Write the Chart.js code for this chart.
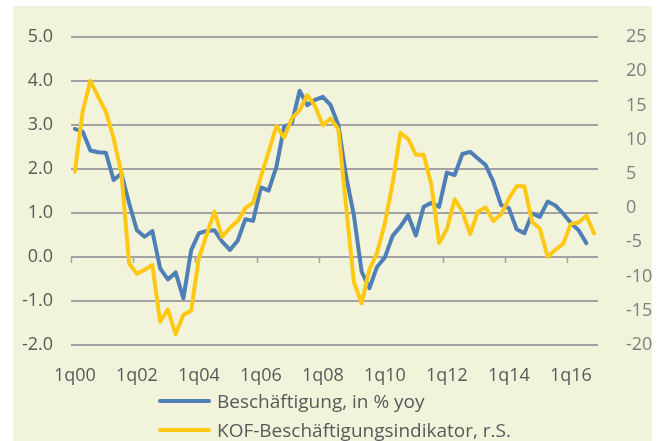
<!DOCTYPE html>
<html>
<head>
<meta charset="utf-8">
<script src="https://cdn.jsdelivr.net/npm/chart.js@4.4.0/dist/chart.umd.min.js"></script>
<style>
  body { margin: 0; background: #fff; }
  #wrap { position: relative; width: 663px; height: 441px; overflow: hidden; }
  #bg { position: absolute; left: 13px; top: 6px; width: 639px; height: 435px; background: #f1f4da; }
  #chart { position: absolute; left: 0; top: 0; }
  #legend { position: absolute; left: 158px; top: 386px; font-family: 'Open Sans', sans-serif; font-size: 19px; color: #595959; }
  .leg-row { display: flex; align-items: center; height: 29px; }
  .leg-line { width: 53px; height: 4px; border-radius: 2px; margin-right: 6px; }
</style>
</head>
<body>
<div id="wrap">
  <div id="bg"></div>
  <canvas id="chart" width="663" height="441"></canvas>
  <div id="legend"></div>
</div>
<script>
// quarterly categories 1q00 .. 4q16
const quarters = [
    '1q00', '2q00', '3q00', '4q00', '1q01', '2q01', '3q01', '4q01',
    '1q02', '2q02', '3q02', '4q02', '1q03', '2q03', '3q03', '4q03',
    '1q04', '2q04', '3q04', '4q04', '1q05', '2q05', '3q05', '4q05',
    '1q06', '2q06', '3q06', '4q06', '1q07', '2q07', '3q07', '4q07',
    '1q08', '2q08', '3q08', '4q08', '1q09', '2q09', '3q09', '4q09',
    '1q10', '2q10', '3q10', '4q10', '1q11', '2q11', '3q11', '4q11',
    '1q12', '2q12', '3q12', '4q12', '1q13', '2q13', '3q13', '4q13',
    '1q14', '2q14', '3q14', '4q14', '1q15', '2q15', '3q15', '4q15',
    '1q16', '2q16', '3q16', '4q16'
];

// Beschäftigung, in % yoy (left axis)
const employment = [
    2.91, 2.85, 2.42, 2.38, 2.37, 1.75, 1.90, 1.22, 0.61, 0.46, 0.59, -0.26, -0.51, -0.35, -0.94, 0.15,
    0.54, 0.59, 0.61, 0.35, 0.16, 0.37, 0.86, 0.82, 1.58, 1.51, 2.05, 2.96, 3.04, 3.78, 3.45, 3.57,
    3.64, 3.45, 3.00, 1.83, 0.95, -0.33, -0.71, -0.22, -0.01, 0.48, 0.69, 0.95, 0.49, 1.14, 1.23, 1.14,
    1.92, 1.86, 2.34, 2.39, 2.24, 2.09, 1.71, 1.18, 1.11, 0.63, 0.54, 0.99, 0.91, 1.26, 1.17, 0.99,
    0.77, 0.61, 0.31, null
];

// KOF-Beschäftigungsindikator (right axis)
const kofIndicator = [
    5.3, 14.1, 18.6, 16.3, 14.1, 10.2, 5.1, -8.1, -9.6, -9.0, -8.3, -16.6, -14.8, -18.4, -15.6, -15.0,
    -7.3, -3.9, -0.5, -4.2, -2.9, -1.9, 0.0, 0.8, 4.6, 8.2, 12.0, 10.3, 13.1, 14.3, 16.5, 14.9,
    12.1, 13.1, 11.5, 0.2, -10.8, -13.9, -9.0, -6.5, -2.2, 3.6, 11.0, 10.1, 7.8, 7.8, 3.4, -5.1,
    -3.1, 1.3, -0.5, -3.8, -0.5, 0.1, -1.9, -0.9, 1.4, 3.2, 3.2, -2.0, -3.0, -7.1, -6.1, -5.2,
    -2.3, -2.1, -1.1, -3.7
];

const leftTicks = [-2, -1, 0, 1, 2, 3, 4, 5];
const rightTicks = [-20, -15, -10, -5, 0, 5, 10, 15, 20, 25];

const seriesNames = ['Beschäftigung, in % yoy', 'KOF-Beschäftigungsindikator, r.S.'];
const BLUE = '#4f7fb7';
const YELLOW = '#ffc814';
const GRID = '#a2a2a2';
const FONT = { family: "'Open Sans', sans-serif", size: 18 };

const chart = new Chart(document.getElementById('chart'), {
    type: 'line',
    data: {
        labels: quarters,
        datasets: [
            {
                label: seriesNames[0],
                data: employment,
                yAxisID: 'y',
                borderColor: BLUE,
                borderWidth: 4,
                pointRadius: 0,
                tension: 0,
                borderJoinStyle: 'round',
                borderCapStyle: 'round',
                order: 1
            },
            {
                label: seriesNames[1],
                data: kofIndicator,
                yAxisID: 'y1',
                borderColor: YELLOW,
                borderWidth: 4,
                pointRadius: 0,
                tension: 0,
                borderJoinStyle: 'round',
                borderCapStyle: 'round',
                order: 0
            }
        ]
    },
    options: {
        responsive: false,
        animation: false,
        devicePixelRatio: 1,
        layout: { padding: { top: 37, left: 0, right: 0, bottom: 0 } },
        plugins: { legend: { display: false }, tooltip: { enabled: false } },
        scales: {
            x: {
                type: 'category',
                offset: true,
                grid: { display: false, offset: true },
                border: { display: false },
                ticks: {
                    autoSkip: false,
                    maxRotation: 0,
                    padding: 12,
                    color: '#595959',
                    font: FONT,
                    callback: (v, i) => i % 8 === 0 ? quarters[i] : ''
                },
                afterFit: s => { s.height = 441 - 345; }
            },
            // tick marks on the zero line
            xTicks: {
                type: 'category',
                axis: 'x',
                position: { y: 0 },
                offset: true,
                grid: {
                    offset: true,
                    drawOnChartArea: false,
                    drawTicks: true,
                    tickLength: 6,
                    tickWidth: 1.5,
                    tickColor: ctx => (ctx.index % 8 === 0 && ctx.index < quarters.length) ? GRID : 'rgba(0,0,0,0)'
                },
                border: { display: false },
                ticks: { display: false }
            },
            y: {
                position: 'left',
                min: -2,
                max: 5,
                afterBuildTicks: s => { s.ticks = leftTicks.map(v => ({ value: v })); },
                grid: { color: GRID, lineWidth: 2, drawTicks: false },
                border: { display: false },
                ticks: {
                    padding: 18,
                    color: '#595959',
                    font: FONT,
                    callback: v => v.toFixed(1)
                },
                afterFit: s => { s.width = 71; }
            },
            y1: {
                position: 'right',
                min: -20,
                max: 25,
                afterBuildTicks: s => { s.ticks = rightTicks.map(v => ({ value: v })); },
                grid: { display: false, drawOnChartArea: false },
                border: { display: false },
                ticks: {
                    padding: 20,
                    color: '#7f7f7f',
                    font: FONT
                },
                afterFit: s => { s.width = 663 - 598; }
            }
        }
    }
});

// legend stacked in two rows, built from the datasets
const legend = document.getElementById('legend');
legend.innerHTML = chart.data.datasets.map(ds => `
    <div class="leg-row">
        <div class="leg-line" style="background:${ds.borderColor}"></div>
        <span>${ds.label}</span>
    </div>
`).join('');
</script>
</body>
</html>
